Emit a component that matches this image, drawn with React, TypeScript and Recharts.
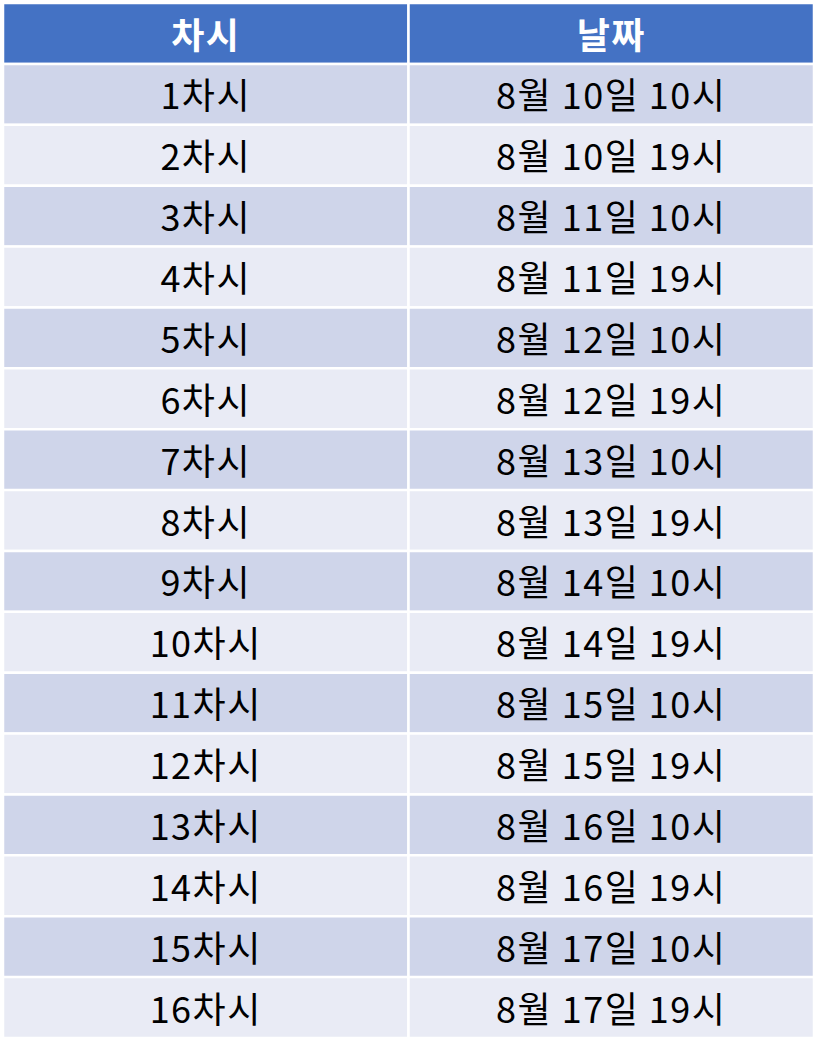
import React from 'react';
import { BarChart, Bar, XAxis, YAxis, Cell, LabelList } from 'recharts';

const headers = ['차시', '날짜'];
const sessions = ['1차시', '2차시', '3차시', '4차시', '5차시', '6차시', '7차시', '8차시', '9차시', '10차시', '11차시', '12차시', '13차시', '14차시', '15차시', '16차시'];
const dates = ['8월 10일 10시', '8월 10일 19시', '8월 11일 10시', '8월 11일 19시', '8월 12일 10시', '8월 12일 19시', '8월 13일 10시', '8월 13일 19시', '8월 14일 10시', '8월 14일 19시', '8월 15일 10시', '8월 15일 19시', '8월 16일 10시', '8월 16일 19시', '8월 17일 10시', '8월 17일 19시'];

const rows = [
  { key: 'h', c1: headers[0], c2: headers[1], a: 1, b: 1 },
  ...sessions.map((s, i) => ({ key: 'r' + i, c1: s, c2: dates[i], a: 1, b: 1 })),
];

const rowFill = (i: number) => (i === 0 ? '#4472C4' : i % 2 === 1 ? '#CFD5EA' : '#E9EBF5');

const renderLabel = (field: 'c1' | 'c2') => (props: any) => {
  const { x, y, width, height, index } = props;
  const row = rows[index];
  const header = index === 0;
  return (
    <text
      x={x + width / 2}
      y={y + height / 2 - 1}
      textAnchor="middle"
      dominantBaseline="central"
      fontSize={36}
      letterSpacing={1.5}
      fontWeight={header ? 700 : 400}
      fill={header ? '#ffffff' : '#000000'}
      fontFamily="'Noto Sans CJK KR', 'Noto Sans', sans-serif"
    >
      {row[field]}
    </text>
  );
};

export default function App() {
  return (
    <div style={{ position: 'absolute', left: 0, top: 0, background: '#fff' }}>
      <BarChart
        width={819}
        height={1053}
        data={rows}
        layout="vertical"
        margin={{ top: 3, right: 5, bottom: 15, left: 3 }}
        barCategoryGap={0}
      >
        <XAxis type="number" domain={[0, 2]} hide />
        <YAxis type="category" dataKey="key" hide />
        <Bar dataKey="a" stackId="t" isAnimationActive={false} stroke="#ffffff" strokeWidth={2.5}>
          {rows.map((_, i) => <Cell key={i} fill={rowFill(i)} />)}
          <LabelList dataKey="c1" content={renderLabel('c1')} />
        </Bar>
        <Bar dataKey="b" stackId="t" isAnimationActive={false} stroke="#ffffff" strokeWidth={2.5}>
          {rows.map((_, i) => <Cell key={i} fill={rowFill(i)} />)}
          <LabelList dataKey="c2" content={renderLabel('c2')} />
        </Bar>
      </BarChart>
    </div>
  );
}
